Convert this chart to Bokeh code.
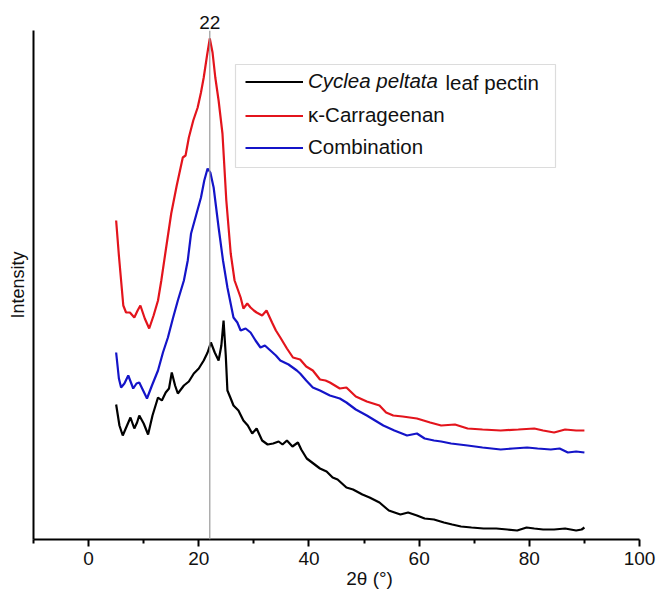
from bokeh.plotting import figure
from bokeh.models import Span, Label, Legend, LegendItem, BoxAnnotation, Range1d, FixedTicker, LinearAxis
from bokeh.embed import file_html
from bokeh.resources import INLINE

# ---- data (arbitrary intensity units) ----
theta_pectin = [5.0, 5.6, 6.2, 6.9, 7.6, 8.3, 8.8, 9.2, 10.0, 10.8,
                11.6, 12.6, 13.3, 14.0, 14.6, 15.1, 15.7, 16.2, 17.3, 18.2,
                19.1, 20.0, 20.9, 21.6, 22.2, 22.9, 23.6, 24.1, 24.5, 24.9,
                25.2, 25.8, 26.3, 27.2, 28.1, 28.9, 29.7, 30.5, 31.5, 32.5,
                33.5, 34.5, 35.2, 36.0, 37.0, 38.0, 38.6, 39.6, 40.8, 42.0,
                43.2, 44.3, 45.2, 46.8, 48.0, 49.7, 51.0, 52.8, 54.5, 56.6,
                58.0, 59.6, 61.0, 62.7, 64.5, 66.0, 67.6, 69.5, 71.7, 74.0,
                76.0, 77.8, 79.5, 80.9, 82.5, 84.5, 86.5, 88.5, 89.5, 90.0]
int_pectin = [135, 114, 104, 113, 122, 111, 117, 124, 116, 105,
              124, 142, 139, 147, 151, 167, 154, 146, 154, 158,
              166, 171, 179, 187, 197, 187, 179, 194, 219, 184,
              149, 141, 134, 129, 119, 114, 106, 111, 99, 95,
              96, 98, 95, 99, 93, 97, 90, 81, 76, 71,
              68, 62, 60, 52, 50, 45, 42, 37, 29, 25,
              27, 24, 21, 20, 17, 15, 13, 12, 11, 11,
              10, 9, 12, 11, 10, 10, 11, 9, 10, 12]

theta_carr = [5.0, 5.5, 5.9, 6.3, 6.8, 7.5, 8.3, 8.9, 9.4, 10.2,
              11.0, 11.8, 12.6, 13.2, 14.0, 15.0, 16.0, 17.1, 17.6, 18.2,
              19.0, 19.8, 20.4, 20.9, 21.5, 22.0, 22.5, 23.0, 23.6, 24.3,
              25.0, 25.8, 26.5, 27.6, 28.1, 28.8, 29.4, 30.0, 30.5, 31.5,
              32.3, 33.3, 34.0, 34.8, 36.0, 37.1, 38.4, 39.5, 40.7, 42.0,
              43.0, 43.8, 45.6, 46.8, 48.5, 50.5, 52.8, 54.0, 55.3, 57.0,
              59.6, 62.0, 64.0, 66.5, 68.8, 71.5, 74.8, 78.0, 80.9, 82.5,
              84.5, 86.5, 88.5, 90.0]
int_carr = [319, 284, 259, 234, 227, 227, 222, 229, 234, 221,
            211, 224, 239, 259, 289, 326, 354, 382, 384, 402,
            419, 432, 447, 462, 484, 501, 487, 462, 439, 406,
            339, 286, 259, 242, 231, 236, 232, 229, 227, 224,
            229, 217, 209, 202, 191, 182, 180, 173, 169, 160,
            159, 157, 151, 152, 143, 138, 134, 127, 124, 123,
            121, 117, 114, 115, 111, 110, 109, 110, 111, 109,
            107, 110, 109, 109]

theta_comb = [5.0, 5.5, 5.9, 6.5, 7.2, 8.1, 8.7, 9.2, 9.9, 10.6,
              11.5, 12.6, 13.5, 14.4, 15.3, 16.2, 17.3, 18.0, 18.6, 19.5,
              20.4, 21.0, 21.6, 22.1, 22.7, 23.6, 24.4, 25.2, 26.3, 27.0,
              27.6, 28.5, 29.4, 30.3, 31.2, 32.0, 33.0, 34.0, 34.8, 36.3,
              37.8, 38.4, 39.5, 40.7, 42.0, 43.8, 45.6, 46.8, 48.5, 50.5,
              52.0, 53.5, 55.5, 57.8, 59.6, 61.0, 62.7, 64.0, 65.8, 68.8,
              71.5, 74.8, 77.0, 79.6, 81.5, 83.9, 85.5, 87.0, 88.5, 90.0]
int_comb = [187, 161, 152, 156, 164, 151, 156, 157, 149, 141,
            154, 169, 187, 202, 221, 239, 259, 279, 306, 324,
            342, 359, 371, 367, 352, 312, 279, 252, 222, 217,
            209, 211, 207, 199, 192, 194, 189, 184, 179, 175,
            169, 166, 159, 152, 149, 144, 141, 137, 130, 124,
            119, 114, 109, 104, 106, 101, 99, 98, 96, 94,
            92, 90, 91, 92, 91, 90, 91, 87, 88, 87]

x_ticks = [0, 20, 40, 60, 80, 100]
x_minor = [-10, 10, 30, 50, 70, 90]
peak_pos = 22
x_title = "2θ (°)"
x_title_pos = 51

FONT = "Liberation Sans"
TXT = "#111111"

p = figure(width=659, height=597, output_backend="svg", toolbar_location=None,
           x_range=Range1d(-10, 100), y_range=Range1d(0, 509),
           min_border_left=33, min_border_right=20, min_border_top=30, min_border_bottom=58)
p.outline_line_color = None
p.xgrid.visible = False
p.ygrid.visible = False

xa = p.xaxis[0]
xa.ticker = FixedTicker(ticks=x_ticks, minor_ticks=x_minor)
xa.axis_line_width = 2
xa.major_tick_line_width = 2
xa.minor_tick_line_width = 2
xa.major_tick_out = 7
xa.major_tick_in = 0
xa.minor_tick_out = 4
xa.minor_tick_in = 0
xa.major_label_text_font = FONT
xa.major_label_text_font_size = "19px"
xa.major_label_text_color = TXT
xa.major_label_standoff = 5

# axis title below, centred where the reference places it
xt = LinearAxis(ticker=FixedTicker(ticks=[x_title_pos], minor_ticks=[]),
                major_label_overrides={x_title_pos: x_title},
                axis_line_color=None, major_tick_line_color=None, minor_tick_line_color=None,
                major_tick_out=0, major_tick_in=0, minor_tick_out=0, minor_tick_in=0,
                major_label_standoff=0, major_label_text_font=FONT,
                major_label_text_font_size="19px", major_label_text_color=TXT)
p.add_layout(xt, "below")

# peak position marker label above the frame
xp = LinearAxis(ticker=FixedTicker(ticks=[peak_pos], minor_ticks=[]),
                axis_line_color=None, major_tick_line_color=None, minor_tick_line_color=None,
                major_tick_out=0, major_tick_in=0, minor_tick_out=0, minor_tick_in=0,
                major_label_standoff=2, major_label_text_font=FONT,
                major_label_text_font_size="19px", major_label_text_color=TXT)
p.add_layout(xp, "above")

ya = p.yaxis[0]
ya.ticker = FixedTicker(ticks=[], minor_ticks=[])
ya.axis_line_width = 2
ya.major_tick_out = 0
ya.major_tick_in = 0
ya.minor_tick_out = 0
ya.minor_tick_in = 0
ya.major_label_text_font_size = "0px"
ya.axis_label = "Intensity"
ya.axis_label_text_font = FONT
ya.axis_label_text_font_size = "18px"
ya.axis_label_text_font_style = "normal"
ya.axis_label_text_color = TXT
ya.axis_label_standoff = 6

p.add_layout(Span(location=peak_pos, dimension="height", line_color="#9a9a9a", line_width=1.2))

r_pectin = p.line(theta_pectin, int_pectin, line_color="#000000", line_width=2.2)
r_carr = p.line(theta_carr, int_carr, line_color="#e3141c", line_width=2.2)
r_comb = p.line(theta_comb, int_comb, line_color="#1414c8", line_width=2.2)

# legend frame
p.add_layout(BoxAnnotation(left=202, right=522, bottom=372, top=475,
                           left_units="screen", right_units="screen",
                           bottom_units="screen", top_units="screen",
                           fill_color="white", fill_alpha=1.0,
                           line_color="#8a8a8a", line_width=1.2))

common = dict(padding=0, margin=0, spacing=8,
              glyph_width=58, glyph_height=23, label_height=23, label_standoff=5,
              label_text_font=FONT, label_text_font_size="20.5px", label_text_color=TXT,
              border_line_color=None, background_fill_alpha=0)
leg_a = Legend(items=[LegendItem(label="Cyclea peltata", renderers=[r_pectin])],
               location=(212, 446), label_text_font_style="italic", **common)
leg_b = Legend(items=[LegendItem(label="κ-Carrageenan", renderers=[r_carr]),
                      LegendItem(label="Combination", renderers=[r_comb])],
               location=(212, 380), **common)
p.add_layout(leg_a)
p.add_layout(leg_b)
p.add_layout(Label(x=412, y=457, x_units="screen", y_units="screen", text="leaf pectin",
                   text_font=FONT, text_font_size="20.5px", text_baseline="middle",
                   text_color=TXT))

open("out.html", "w").write(file_html(p, INLINE))
